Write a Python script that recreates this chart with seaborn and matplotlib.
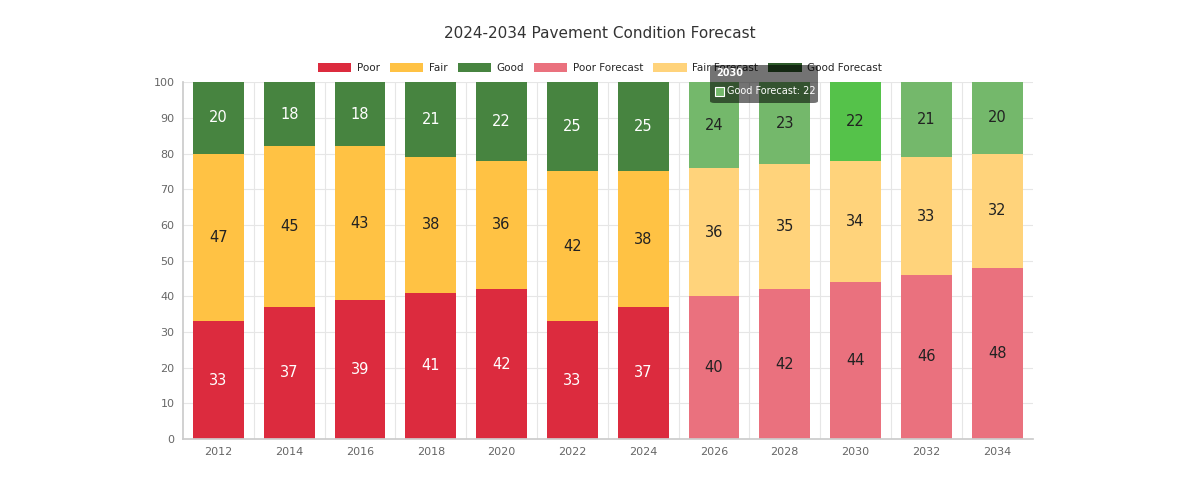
import matplotlib
matplotlib.use("Agg")
import matplotlib.pyplot as plt
import seaborn as sns
import pandas as pd
from matplotlib.patches import Patch, FancyBboxPatch

years = ["2012","2014","2016","2018","2020","2022","2024","2026","2028","2030","2032","2034"]
poor = [33,37,39,41,42,33,37,40,42,44,46,48]
fair = [47,45,43,38,36,42,38,36,35,34,33,32]
good = [20,18,18,21,22,25,25,24,23,22,21,20]
forecast = [False]*7 + [True]*5

C = dict(poor="#DC2B3E", fair="#FFC244", good="#478440",
         poorf="#EA717E", fairf="#FFD37B", goodf="#74B86B")

sns.set_theme(style="white")
plt.rcParams['font.family'] = ['DejaVu Sans']
fig = plt.figure(figsize=(12, 4.84), dpi=100)
ax = fig.add_axes([0.1525, 0.093, 0.708, 0.737])

df = pd.DataFrame(dict(year=years, poor=poor, fair=fair, good=good))
df["pf"] = df.poor + df.fair
df["tot"] = df.pf + df.good

layers = [("tot", "good", "goodf"), ("pf", "fair", "fairf"), ("poor", "poor", "poorf")]
for col, a, b in layers:
    n0 = len(ax.patches)
    sns.barplot(data=df, x="year", y=col, ax=ax, width=0.72, color=C[a], saturation=1, errorbar=None)
    for i, p in enumerate(ax.patches[n0:]):
        p.set_facecolor(C[b] if forecast[i] else C[a])
        p.set_edgecolor("none")
ax.patches[9].set_facecolor("#55C24A")

for i in range(len(years)):
    f = forecast[i]
    ax.text(i, poor[i]/2, str(poor[i]), ha="center", va="center", fontsize=10.5,
            color="#222" if f else "white")
    ax.text(i, poor[i]+fair[i]/2, str(fair[i]), ha="center", va="center", fontsize=10.5, color="#222")
    ax.text(i, poor[i]+fair[i]+good[i]/2, str(good[i]), ha="center", va="center", fontsize=10.5,
            color="#222" if f else "white")

ax.set_ylim(0, 100)
ax.set_xlim(-0.5, len(years)-0.5)
ax.set_yticks(range(0, 101, 10))
ax.set_xlabel(""); ax.set_ylabel("")
ax.tick_params(axis="both", labelsize=8, colors="#666", length=0, pad=6)
ax.yaxis.grid(True, color="#e6e6e6", lw=0.8)
ax.set_xticks([i + 0.5 for i in range(len(years)-1)], minor=True)
ax.xaxis.grid(True, which="minor", color="#e6e6e6", lw=0.8)
ax.set_axisbelow(True)
for s in ["top", "right"]:
    ax.spines[s].set_visible(False)
for s in ["left", "bottom"]:
    ax.spines[s].set_color("#cccccc")

fig.text(0.5, 0.93, "2024-2034 Pavement Condition Forecast", ha="center", va="center",
         fontsize=11, color="#333")

labels = ["Poor", "Fair", "Good", "Poor Forecast", "Fair Forecast", "Good Forecast"]
cols = [C["poor"], C["fair"], C["good"], C["poorf"], C["fairf"], "#2E5A2A"]
handles = [Patch(facecolor=c, edgecolor="none") for c in cols]
fig.legend(handles, labels, loc="center", bbox_to_anchor=(0.5, 0.86), ncol=6, frameon=False,
           fontsize=7.5, handlelength=3.2, handleheight=1.0, columnspacing=1.0, handletextpad=0.5)

tip = FancyBboxPatch((710/1200, 1-103/484), 108/1200, 38/484, boxstyle="round,pad=0,rounding_size=0.004",
                     transform=fig.transFigure, facecolor="black", alpha=0.55, edgecolor="none", zorder=10)
fig.patches.append(tip)
fig.text(716/1200, 1-73/484, "2030", fontsize=7, color="white", weight="bold", zorder=11, va="center")
fig.patches.append(FancyBboxPatch((715/1200, 1-96/484), 9/1200, 9/484, boxstyle="square,pad=0",
                   transform=fig.transFigure, facecolor="#74B86B", edgecolor="white", lw=0.8, zorder=11))
fig.text(727/1200, 1-91/484, "Good Forecast: 22", fontsize=7, color="white", zorder=11, va="center")

fig.savefig("out.png", dpi=100)
